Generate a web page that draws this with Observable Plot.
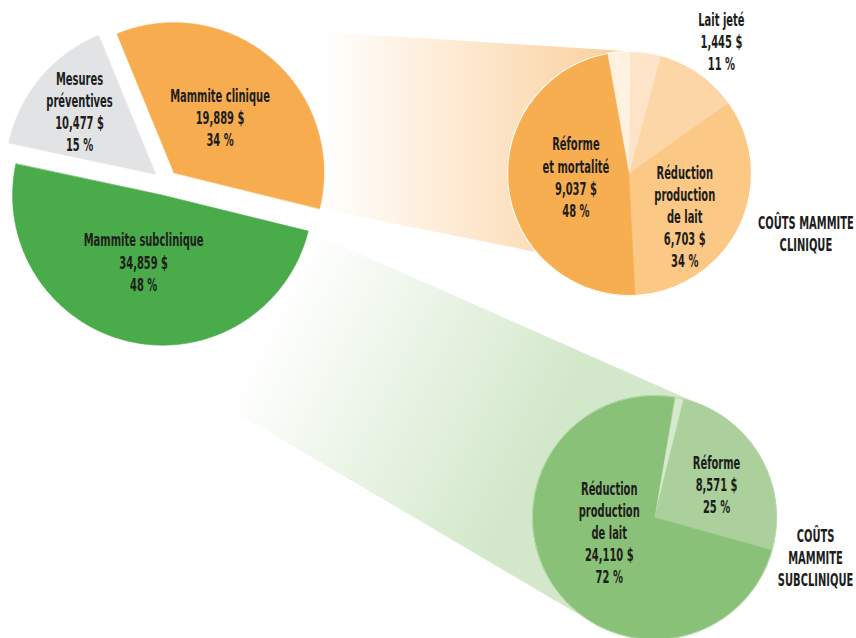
<!DOCTYPE html>
<html><head><meta charset="utf-8">
<script src="https://cdn.jsdelivr.net/npm/d3@7"></script>
<script src="https://cdn.jsdelivr.net/npm/@observablehq/plot@0.6"></script>
<style>
html,body{margin:0;padding:0;background:#fff;overflow:hidden;}
#chart svg{display:block}
</style></head><body><div id="chart"></div>
<script>
// ---------- DATA ----------
const mainCategories = ["Mesures\npréventives", "Mammite clinique", "Mammite subclinique"];
const mainCosts = [10477, 19889, 34859];
const mainPercents = [15, 34, 48];

const clinicalCategories = ["Réforme\net mortalité", "", "", "Lait jeté", "Réduction\nproduction\nde lait"];
const clinicalCosts = [9037, null, null, 1445, 6703];
const clinicalPercents = [48, 3, 4, 11, 34];
const clinicalTitle = "COÛTS MAMMITE\nCLINIQUE";

const subCategories = ["", "Réforme", "Réduction\nproduction\nde lait"];
const subCosts = [null, 8571, 24110];
const subPercents = [1.2, 25, 72];
const subTitle = "COÛTS\nMAMMITE\nSUBCLINIQUE";

// ---------- STYLE / LAYOUT ----------
const W = 856, H = 638, deg = Math.PI / 180;
const mainColors = ["#e2e3e5", "#f7ad4f", "#4aab4a"];
const clinicalColors = ["#f7ae51", "#fef1e0", "#fde3c7", "#fcd6a7", "#fbc886"];
const subColors = ["#d5e9cd", "#abd09c", "#89c178"];
const main = {cx: 165, cy: 182, r: 150, start: -78, explode: 13,
  lab: [[0.66, 0], [0.48, -1], [0.46, 3]]};
const clin = {cx: 629, cy: 173, r: 122, start: 177, explode: 0,
  lab: [[0.44, 3.4], null, null, [1.32, 0], [0.57, 11.6]]};
const sub = {cx: 654, cy: 517, r: 122, start: 9.5, explode: 0,
  lab: [null, [0.58, 1.6], [0.39, 14.5]]};
const TEXT_SCALE_X = 0.65;

const fmt = d3.format(",");

function slices(values, g, key) {
  const arcs = d3.pie().sort(null).startAngle(g.start * deg).endAngle(g.start * deg + 2 * Math.PI)(values);
  return arcs.map((a, i) => {
    const mid = (a.startAngle + a.endAngle) / 2;
    const ox = g.cx + g.explode * Math.sin(mid), oy = g.cy - g.explode * Math.cos(mid);
    const n = Math.max(2, Math.ceil((a.endAngle - a.startAngle) / (0.5 * deg)));
    const pts = [{x: ox, y: oy, k: key + i}];
    for (let j = 0; j <= n; j++) {
      const t = a.startAngle + (a.endAngle - a.startAngle) * j / n;
      pts.push({x: ox + g.r * Math.sin(t), y: oy - g.r * Math.cos(t), k: key + i});
    }
    return {i, mid, a0: a.startAngle, a1: a.endAngle, ox, oy, r: g.r, pts};
  });
}
const pt = (cx, cy, r, a) => ({x: cx + r * Math.sin(a), y: cy - r * Math.cos(a)});

function labels(sl, g, cats, costs, pcts) {
  const out = [];
  sl.forEach((s, i) => {
    const p = g.lab[i];
    if (!p || !cats[i]) return;
    const a = s.mid + p[1] * deg;
    const q = pt(s.ox, s.oy, p[0] * g.r, a);
    out.push({x: q.x, y: q.y, text: `${cats[i]}\n${fmt(costs[i])} $\n${pcts[i]} %`});
  });
  return out;
}

// tangent helpers
function extTangent(c1, r1, c2, r2, sign) {
  const dx = c2.x - c1.x, dy = c2.y - c1.y, d = Math.hypot(dx, dy);
  const ua = Math.atan2(dy, dx), th = Math.acos((r2 - r1) / d);
  const na = ua + sign * th, n = {x: Math.cos(na), y: Math.sin(na)};
  return [{x: c1.x - r1 * n.x, y: c1.y - r1 * n.y}, {x: c2.x - r2 * n.x, y: c2.y - r2 * n.y}];
}
function pointTangent(p, c, r, sign) {
  const dx = c.x - p.x, dy = c.y - p.y, d = Math.hypot(dx, dy);
  const a = Math.atan2(dy, dx) + sign * Math.asin(r / d), L = Math.sqrt(d * d - r * r);
  return {x: p.x + L * Math.cos(a), y: p.y + L * Math.sin(a)};
}

const mainS = slices(mainPercents, main, "m");
const clinS = slices(clinicalPercents, clin, "c");
const subS = slices(subPercents, sub, "s");

// orange connector
const oS = mainS[1], gS = mainS[2];
const oC = {x: oS.ox, y: oS.oy}, cC = {x: clin.cx, y: clin.cy};
const [ot1, ot2] = extTangent(oC, main.r, cC, clin.r, 1);
const oCorner = pt(oS.ox, oS.oy, main.r, oS.a1);
const orangeBand = [ot1, ot2, cC, pt(clin.cx, clin.cy, clin.r, 230 * deg), oCorner, oC];

// green connector
const gC = {x: gS.ox, y: gS.oy}, sC = {x: sub.cx, y: sub.cy};
const gCorner = pt(gS.ox, gS.oy, main.r, gS.a0);
const gUp = pointTangent(gCorner, sC, sub.r, -1);
const [gl1, gl2] = extTangent(gC, main.r, sC, sub.r, -1);
const greenBand = [gCorner, gUp, sC, gl2, gl1, gC];

const textStyle = {fontFamily: "'DejaVu Sans Condensed', 'DejaVu Sans', sans-serif",
  fontWeight: "bold", fontSize: 17, lineHeight: 1.3, fill: "#1d1d1b"};

const sliceMarks = (sl, colors) => sl.map(s =>
  Plot.line(s.pts, {x: "x", y: "y", fill: colors[s.i], stroke: colors[s.i], strokeWidth: 0.6, curve: "linear-closed"}));

const plot = Plot.plot({
  width: W, height: H, margin: 0,
  x: {domain: [0, W], range: [0, W], axis: null},
  y: {domain: [0, H], range: [0, H], axis: null},
  style: {background: "white", overflow: "hidden"},
  marks: [
    Plot.line(orangeBand, {x: "x", y: "y", fill: "url(#gradOrange)", stroke: "none", curve: "linear-closed"}),
    Plot.line(greenBand, {x: "x", y: "y", fill: "url(#gradGreen)", stroke: "none", curve: "linear-closed"}),
    ...sliceMarks(mainS, mainColors),
    ...sliceMarks(clinS, clinicalColors),
    Plot.dot([cC], {x: "x", y: "y", r: clin.r, fill: "none", stroke: "#ffffff", strokeWidth: 1.2}),
    ...sliceMarks(subS, subColors),
    Plot.dot([sC], {x: "x", y: "y", r: sub.r, fill: "none", stroke: "#b3d9a6", strokeWidth: 1}),
    Plot.text(labels(mainS, main, mainCategories, mainCosts, mainPercents), {x: "x", y: "y", text: "text", ...textStyle}),
    Plot.text(labels(clinS, clin, clinicalCategories, clinicalCosts, clinicalPercents), {x: "x", y: "y", text: "text", ...textStyle}),
    Plot.text(labels(subS, sub, subCategories, subCosts, subPercents), {x: "x", y: "y", text: "text", ...textStyle}),
    Plot.text([{x: clin.cx + 1.446 * clin.r, y: clin.cy + 0.49 * clin.r, text: clinicalTitle}], {x: "x", y: "y", text: "text", ...textStyle}),
    Plot.text([{x: sub.cx + 1.32 * sub.r, y: sub.cy + 0.325 * sub.r, text: subTitle}], {x: "x", y: "y", text: "text", ...textStyle})
  ]
});

// condensed lettering: squeeze each text horizontally around its anchor
d3.select(plot).selectAll("text").each(function () {
  const t = this.getAttribute("transform");
  if (t && /translate/.test(t)) {
    this.setAttribute("transform", t + ` scale(${TEXT_SCALE_X},1)`);
  } else {
    const x = +(this.getAttribute("x") || 0), y = +(this.getAttribute("y") || 0);
    this.setAttribute("x", 0); this.setAttribute("y", 0);
    d3.select(this).selectAll("tspan[x]").attr("x", 0);
    this.setAttribute("transform", `${t || ""} translate(${x},${y}) scale(${TEXT_SCALE_X},1)`);
  }
});

const defs = d3.select(plot).insert("defs", ":first-child");
const g1 = defs.append("linearGradient").attr("id", "gradOrange").attr("gradientUnits", "userSpaceOnUse")
  .attr("x1", 322).attr("y1", 0).attr("x2", 600).attr("y2", 0);
g1.append("stop").attr("offset", 0).attr("stop-color", "#ffffff");
g1.append("stop").attr("offset", 1).attr("stop-color", "#fbd3a3");
const g2 = defs.append("linearGradient").attr("id", "gradGreen").attr("gradientUnits", "userSpaceOnUse")
  .attr("x1", 265).attr("y1", 325).attr("x2", 530).attr("y2", 460);
g2.append("stop").attr("offset", 0).attr("stop-color", "#ffffff");
g2.append("stop").attr("offset", 1).attr("stop-color", "#d3e8cb");

document.getElementById("chart").appendChild(plot);
</script></body></html>
